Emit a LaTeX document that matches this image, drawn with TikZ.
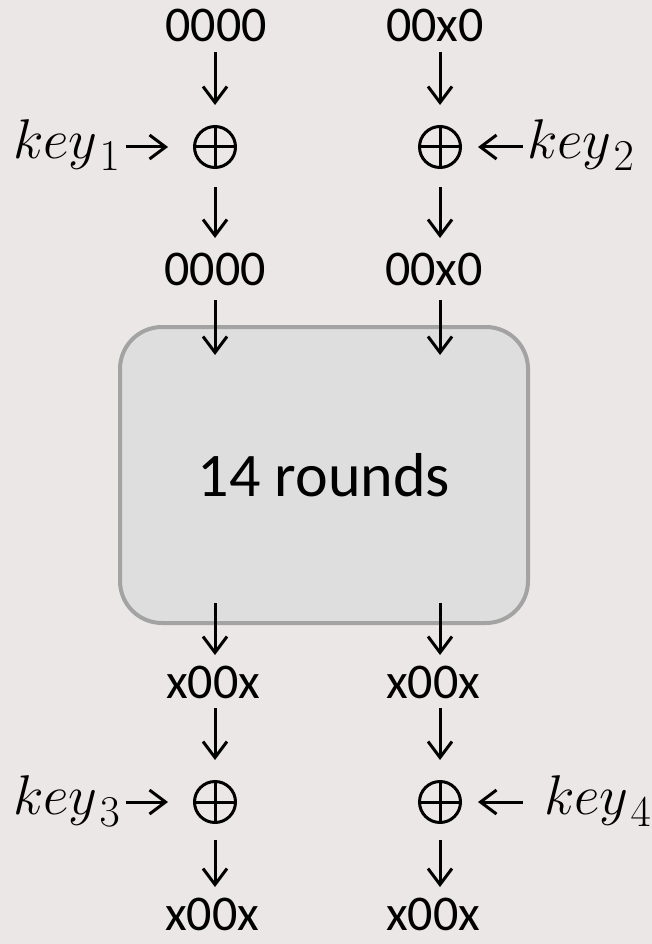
\RequirePackage{fix-cm}
\documentclass[tikz,border=0pt]{standalone}
\usepackage[no-math]{fontspec}
\setmainfont{Carlito}
\usetikzlibrary{arrows.meta}
\definecolor{paper}{RGB}{236,231,231}
\definecolor{boxfill}{RGB}{222,222,222}
\definecolor{boxline}{RGB}{163,163,163}
% key label: italic "key" with a large lowered index
\newcommand\keylabel[1]{$key$\kern2pt\raisebox{-12pt}{\fontsize{44}{44}\selectfont$#1$}}
\begin{document}
\begin{tikzpicture}[x=1pt,y=-1pt,
  every node/.style={inner sep=0pt, outer sep=0pt},
  lbl/.style={font=\fontsize{50}{50}\selectfont, text height=31pt, text depth=0pt, anchor=base},
  keylbl/.style={font=\fontsize{56}{56}\selectfont, anchor=base west},
  xorop/.style={circle, draw, line width=3pt, minimum size=41pt,
    path picture={\draw[line width=3pt]
      (path picture bounding box.north) -- (path picture bounding box.south)
      (path picture bounding box.west) -- (path picture bounding box.east);}},
  roundsbox/.style={draw=boxline, fill=boxfill, line width=4pt, rounded corners=42pt,
    minimum width=408pt, minimum height=296pt, font=\fontsize{62}{62}\selectfont},
  arr/.style={line width=3pt, -{Straight Barb[length=16pt,width=24pt,line width=3pt]}}]

\path[use as bounding box, fill=paper] (0,0) rectangle (652,944);

% inputs and first key addition
\node[lbl] (in1) at (216,42) {0000};
\node[lbl] (in2) at (435,42) {00x0};
\node[xorop] (x1) at (215,147) {};
\node[xorop] (x2) at (440,147) {};
\node[keylbl] (k1) at (13,159) {\keylabel{1}};
\node[keylbl] (k2) at (527,159) {\keylabel{2}};
\node[lbl] (m1) at (215,285) {0000};
\node[lbl] (m2) at (434,285) {00x0};

% round function
\node[roundsbox] (r) at (324,475) {14 rounds};

% outputs and second key addition
\node[lbl] (o1) at (213,698) {x00x};
\node[lbl] (o2) at (433,698) {x00x};
\node[xorop] (x3) at (215,802) {};
\node[xorop] (x4) at (440,802) {};
\node[keylbl] (k3) at (13,814) {\keylabel{3}};
\node[keylbl] (k4) at (544,814) {\keylabel{4}};
\node[lbl] (f1) at (212,930) {x00x};
\node[lbl] (f2) at (433,930) {x00x};

% vertical flow, left column
\draw[arr, shorten <=10pt, shorten >=21.5pt] (x1 |- in1.south) -- (x1.north);
\draw[arr, shorten <=19.5pt, shorten >=16pt] (x1.south) -- (x1 |- m1.north);
\draw[arr, shorten <=15pt, shorten >=-28pt] (x1 |- m1.south) -- (x1 |- r.north);
\draw[arr, shorten <=-20pt, shorten >=12pt] (x1 |- r.south) -- (x1 |- o1.north);
\draw[arr, shorten <=10pt, shorten >=21.5pt] (x3 |- o1.south) -- (x3.north);
\draw[arr, shorten <=17.5pt, shorten >=12pt] (x3.south) -- (x3 |- f1.north);

% vertical flow, right column
\draw[arr, shorten <=10pt, shorten >=21.5pt] (x2 |- in2.south) -- (x2.north);
\draw[arr, shorten <=19.5pt, shorten >=16pt] (x2.south) -- (x2 |- m2.north);
\draw[arr, shorten <=15pt, shorten >=-28pt] (x2 |- m2.south) -- (x2 |- r.north);
\draw[arr, shorten <=-20pt, shorten >=12pt] (x2 |- r.south) -- (x2 |- o2.north);
\draw[arr, shorten <=10pt, shorten >=21.5pt] (x4 |- o2.south) -- (x4.north);
\draw[arr, shorten <=17.5pt, shorten >=12pt] (x4.south) -- (x4 |- f2.north);

% key inputs
\draw[arr, shorten <=6pt, shorten >=26.5pt] (k1.east |- x1) -- (x1.west);
\draw[arr, shorten <=4pt, shorten >=17.5pt] (k2.west |- x2) -- (x2.east);
\draw[arr, shorten <=6pt, shorten >=26.5pt] (k3.east |- x3) -- (x3.west);
\draw[arr, shorten <=21pt, shorten >=17.5pt] (k4.west |- x4) -- (x4.east);
\end{tikzpicture}
\end{document}
